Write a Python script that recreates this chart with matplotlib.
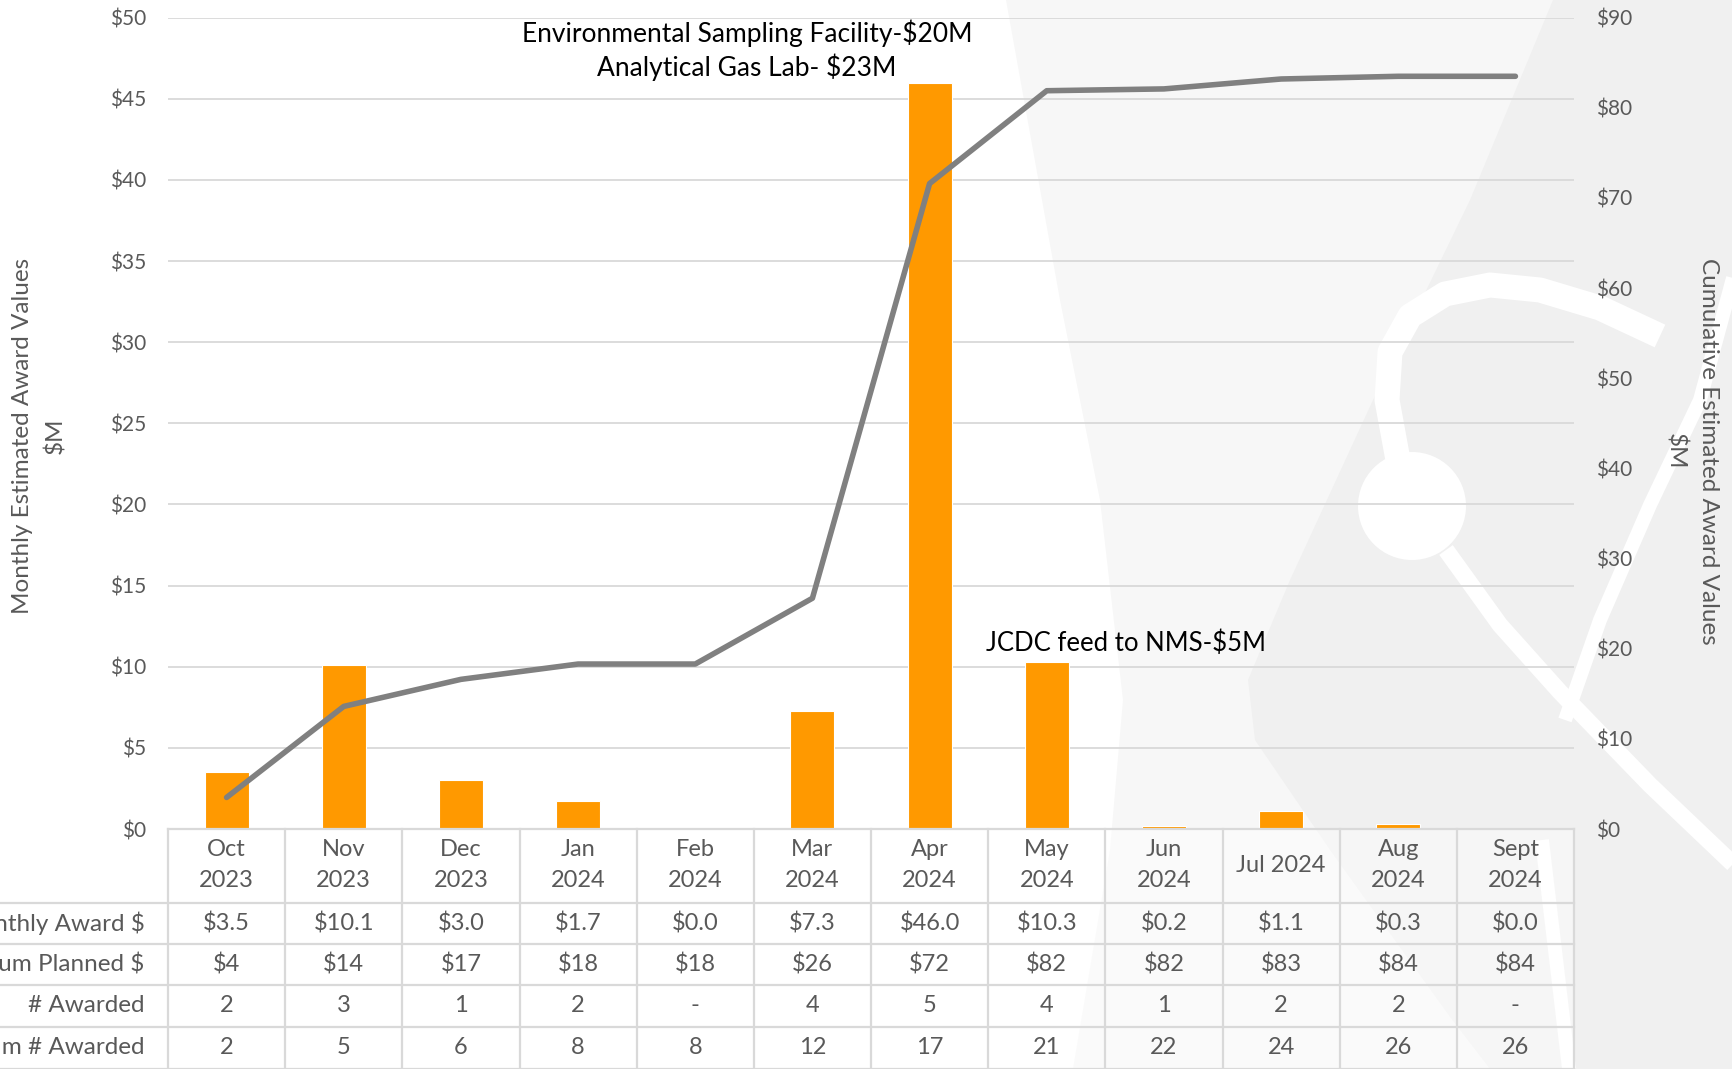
import matplotlib
matplotlib.use("Agg")
import matplotlib.pyplot as plt
from matplotlib.patches import Polygon, Ellipse, Rectangle
from matplotlib.lines import Line2D

plt.rcParams['font.family'] = ['Lato', 'DejaVu Sans']

# ---- data ----
months = ["Oct\n2023", "Nov\n2023", "Dec\n2023", "Jan\n2024", "Feb\n2024", "Mar\n2024",
          "Apr\n2024", "May\n2024", "Jun\n2024", "Jul 2024", "Aug\n2024", "Sept\n2024"]
monthly_award = [3.5, 10.1, 3.0, 1.7, 0.0, 7.3, 46.0, 10.3, 0.2, 1.1, 0.3, 0.0]
cum_award = [3.5, 13.6, 16.6, 18.3, 18.3, 25.6, 71.6, 81.9, 82.1, 83.2, 83.5, 83.5]
cum_planned_txt = ["$4", "$14", "$17", "$18", "$18", "$26", "$72", "$82", "$82", "$83", "$84", "$84"]
n_awarded = ["2", "3", "1", "2", "-", "4", "5", "4", "1", "2", "2", "-"]
cum_n_awarded = ["2", "5", "6", "8", "8", "12", "17", "21", "22", "24", "26", "26"]
row_labels = ["Monthly Award $", "Cum Planned $", "# Awarded", "Cum # Awarded"]
left_ticks = list(range(0, 51, 5))
right_ticks = list(range(0, 91, 10))

W, H = 1733, 1069
TXT = "#595959"
GRID = "#d9d9d9"
ORANGE = "#ff9900"

fig = plt.figure(figsize=(W / 100, H / 100), dpi=100)
fig.patch.set_facecolor("white")


def px(x, y):
    return (x / W, 1 - y / H)


# ---- faint background artwork ----
light_edge = [(1006, 0), (1060, 300), (1100, 500), (1123, 700), (1110, 850), (1073, 1069)]
fig.add_artist(Polygon([px(*p) for p in light_edge + [(W, H), (W, 0)]], closed=True,
                       transform=fig.transFigure, facecolor="#f7f7f7", edgecolor="none", zorder=-3))
dark_edge = [(1553, 0), (1470, 200), (1373, 400), (1290, 580), (1248, 680), (1255, 740),
             (1330, 850), (1450, 1017), (1490, 1069)]
fig.add_artist(Polygon([px(*p) for p in dark_edge + [(W, H), (W, 0)]], closed=True,
                       transform=fig.transFigure, facecolor="#f0f0f0", edgecolor="none", zorder=-2))
for pts, lw in [([(1398, 460), (1387, 400), (1390, 352), (1410, 316), (1445, 294), (1490, 285),
                  (1540, 290), (1600, 308), (1660, 336)], 18),
                ([(1446, 550), (1500, 625), (1560, 692), (1650, 785), (1733, 864)], 12),
                ([(1733, 278), (1700, 400), (1650, 505), (1600, 620), (1565, 720)], 10),
                ([(1542, 840), (1555, 950), (1569, 1069)], 10)]:
    xs, ys = zip(*[px(*p) for p in pts])
    fig.add_artist(Line2D(xs, ys, transform=fig.transFigure, color="white", lw=lw,
                          solid_capstyle="butt", solid_joinstyle="round", zorder=-1))
fig.add_artist(Ellipse(px(1412, 506), 108 / W, 108 / H, transform=fig.transFigure,
                       facecolor="white", edgecolor="none", zorder=-1))

# ---- main chart ----
ax_l, ax_r, ax_t, ax_b = 168, 1574, 17.7, 829
ax = fig.add_axes([ax_l / W, 1 - ax_b / H, (ax_r - ax_l) / W, (ax_b - ax_t) / H])
ax.set_facecolor("none")
x = list(range(len(months)))
ax.bar(x, monthly_award, width=0.375, color=ORANGE, edgecolor="white", linewidth=0.8, zorder=3)
ax.set_xlim(-0.5, 11.5)
ax.set_ylim(0, 50)
ax.set_yticks(left_ticks)
ax.set_yticklabels([f"${t}" for t in left_ticks])
ax.set_xticks([])
ax.grid(axis="y", color=GRID, lw=1.3, zorder=0)
ax.tick_params(axis="y", length=0, pad=16, labelsize=15, labelcolor=TXT)
for s in ax.spines.values():
    s.set_visible(False)

ax2 = ax.twinx()
ax2.plot(x, cum_award, color="#808080", lw=4.0, solid_capstyle="round", zorder=4)
ax2.set_ylim(0, 90)
ax2.set_yticks(right_ticks)
ax2.set_yticklabels([f"${t}" for t in right_ticks])
ax2.tick_params(axis="y", length=0, pad=16, labelsize=15, labelcolor=TXT)
for s in ax2.spines.values():
    s.set_visible(False)

ax.text(4.44, 48.0, "Environmental Sampling Facility-$20M\nAnalytical Gas Lab- $23M",
        ha="center", va="center", fontsize=19, color="black", linespacing=1.3)
ax.text(6.48, 11.45, "JCDC feed to NMS-$5M", ha="left", va="center", fontsize=18.5, color="black")

fig.text(39 / W, 1 - 436 / H, "Monthly Estimated Award Values\n$M", rotation=90,
         ha="center", va="center", fontsize=17.5, color=TXT, linespacing=1.65)
fig.text(1692 / W, 1 - 451 / H, "Cumulative Estimated Award Values\n$M", rotation=-90,
         ha="center", va="center", fontsize=17.5, color=TXT, linespacing=1.65)

# ---- data table under the chart ----
tax = fig.add_axes([ax_l / W, 0, (ax_r - ax_l) / W, (H - ax_b) / H])
tax.set_xlim(-0.5, 11.5)
tax.set_ylim(H, ax_b)
tax.axis("off")
tax.add_patch(Rectangle((-0.5, ax_b), 12, H - ax_b, facecolor="white", alpha=0.45,
                        edgecolor="none", zorder=0))

row_edges = [ax_b, 903, 944, 985, 1027, H]
for k in range(13):
    tax.plot([k - 0.5, k - 0.5], [ax_b, H], color=GRID, lw=1.6, clip_on=False, zorder=1)
tax.plot([-0.5, 11.5], [ax_b, ax_b], color=GRID, lw=1.6, clip_on=False, zorder=1)
for yy in row_edges[1:]:
    tax.plot([-3, 11.5], [yy, yy], color=GRID, lw=1.6, clip_on=False, zorder=1)

for i, m in enumerate(months):
    tax.text(i, (row_edges[0] + row_edges[1]) / 2 - 1, m, ha="center", va="center",
             fontsize=17, color=TXT, linespacing=1.55)

rows = [[f"${v:.1f}" for v in monthly_award], cum_planned_txt, n_awarded, cum_n_awarded]
for r, vals in enumerate(rows):
    yc = (row_edges[r + 1] + row_edges[r + 2]) / 2
    tax.text(-0.7, yc, row_labels[r], ha="right", va="center", fontsize=17.5, color=TXT,
             clip_on=False)
    for i, v in enumerate(vals):
        tax.text(i, yc, v, ha="center", va="center", fontsize=17, color=TXT)

fig.savefig("out.png", dpi=100)
